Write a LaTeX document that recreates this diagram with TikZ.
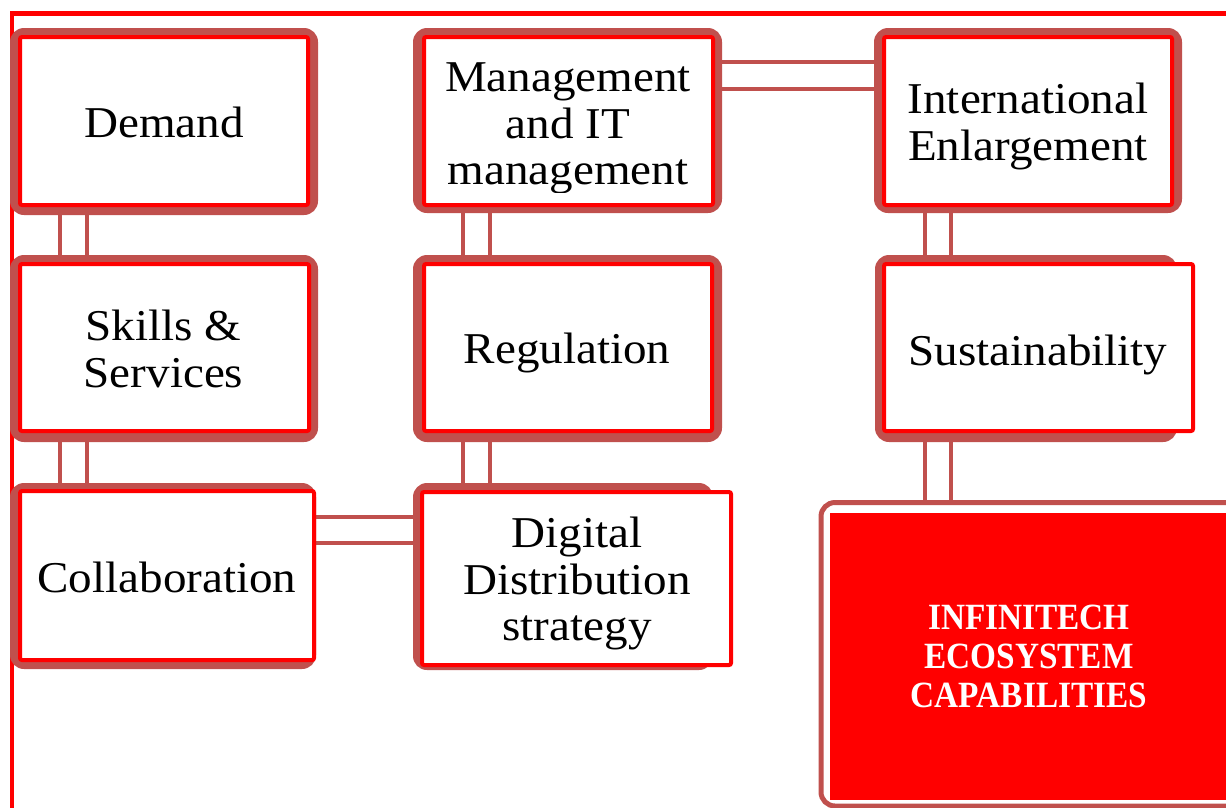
\documentclass[tikz,border=0pt]{standalone}
\usepackage{fontspec}
\setmainfont{Liberation Serif}[FakeStretch=1.07]
\newfontfamily\capfont{Liberation Serif}[FakeStretch=0.9]
\usetikzlibrary{fit}
\definecolor{brn}{HTML}{C0504D}
\definecolor{rd}{HTML}{FF0000}
\tikzset{
  outerbox/.style={fill=brn, draw=none, rounded corners=14pt, inner sep=0pt},
  innerbox/.style={draw=rd, fill=white, line width=4pt, rounded corners=2pt, inner sep=0pt},
  txt/.style={inner sep=0pt, align=center, font=\fontsize{44}{46.5}\selectfont},
  captxt/.style={inner sep=0pt, align=center, text=white, font=\capfont\bfseries\fontsize{37}{39}\selectfont},
  conn/.style={draw=brn, line width=3.5pt},
  framel/.style={draw=rd, line width=4.5pt}
}
\begin{document}
\begin{tikzpicture}[x=1pt,y=-1pt]
\useasboundingbox (0,0) rectangle (1226,807);
% frame
\coordinate (fb) at (12,812);
\coordinate (fc) at (12,13.5);
\coordinate (fr) at (1232,13.5);
\draw[framel] (fb) -- (fc) -- (fr);
% guide coordinates for connectors
\coordinate (ga) at (60,0);   \coordinate (gb) at (87,0);
\coordinate (gc) at (463,0);  \coordinate (gd) at (490,0);
\coordinate (ge) at (925,0);  \coordinate (gf) at (951,0);
\coordinate (ha) at (0,62);   \coordinate (hb) at (0,89);
\coordinate (hc) at (0,517);  \coordinate (hd) at (0,543);
% outer shapes
\node[outerbox, fit={(10,28) (318,215)}] (demO) {};
\node[outerbox, fit={(413,28) (722,213)}] (mgmO) {};
\node[outerbox, fit={(874,28) (1182,213)}] (intO) {};
\node[outerbox, fit={(10,255) (318,442)}] (sklO) {};
\node[outerbox, fit={(413,255) (722,442)}] (regO) {};
\node[outerbox, fit={(875,255) (1177,442)}] (susO) {};
\node[outerbox, fit={(10,483) (316,669)}] (colO) {};
\node[outerbox, fit={(413,483) (713,670)}] (digO) {};
\node[draw=brn, line width=5pt, fill=white, rounded corners=14pt, inner sep=0pt, fit={(821,502.5) (1242,806)}] (infO) {};
% connectors
\draw[conn] (demO.south -| ga) -- (sklO.north -| ga);
\draw[conn] (demO.south -| gb) -- (sklO.north -| gb);
\draw[conn] (sklO.south -| ga) -- (colO.north -| ga);
\draw[conn] (sklO.south -| gb) -- (colO.north -| gb);
\draw[conn] (mgmO.south -| gc) -- (regO.north -| gc);
\draw[conn] (mgmO.south -| gd) -- (regO.north -| gd);
\draw[conn] (regO.south -| gc) -- (digO.north -| gc);
\draw[conn] (regO.south -| gd) -- (digO.north -| gd);
\draw[conn] (intO.south -| ge) -- (susO.north -| ge);
\draw[conn] (intO.south -| gf) -- (susO.north -| gf);
\draw[conn] (susO.south -| ge) -- (infO.north -| ge);
\draw[conn] (susO.south -| gf) -- (infO.north -| gf);
\draw[conn] (mgmO.east |- ha) -- (intO.west |- ha);
\draw[conn] (mgmO.east |- hb) -- (intO.west |- hb);
\draw[conn] (colO.east |- hc) -- (digO.west |- hc);
\draw[conn] (colO.east |- hd) -- (digO.west |- hd);
% inner boxes
\node[innerbox, fit={(20,37) (308,205)}] (dem) {};
\node[innerbox, fit={(424,37) (713,205)}] (mgm) {};
\node[innerbox, fit={(884,37) (1172,205)}] (int) {};
\node[innerbox, fit={(20,264) (309,431)}] (skl) {};
\node[innerbox, fit={(424,264) (712,431)}] (reg) {};
\node[innerbox, fit={(884,264) (1193,431)}] (sus) {};
\node[innerbox, fit={(20,491) (314,660)}] (col) {};
\node[innerbox, fit={(422,492) (731,665)}] (dig) {};
\node[fill=rd, draw=none, inner sep=0pt, fit={(830,513) (1226,800)}] (inf) {};
% texts
\node[txt] (demT) at (164,122) {Demand};
\begin{scope}
\clip (424,37) rectangle (713,192);
\node[txt] (mgmT) at (568,128.7) {Management\\and IT\\management};
\end{scope}
\node[txt] (intT) at (1028,126.3) {International\\Enlargement};
\node[txt] (sklT) at (163.5,349) {Skills \&\\Services};
\node[txt] (regT) at (567,352.8) {Regulation};
\node[txt] (susT) at (1038,354.8) {Sustainability};
\node[txt] (colT) at (167,577) {Collaboration};
\node[txt] (digT) at (577,583.8) {Digital\\Distribution\\strategy};
\node[captxt] (infT) at (1029,656.5) {INFINITECH\\ECOSYSTEM\\CAPABILITIES};
\end{tikzpicture}
\end{document}
